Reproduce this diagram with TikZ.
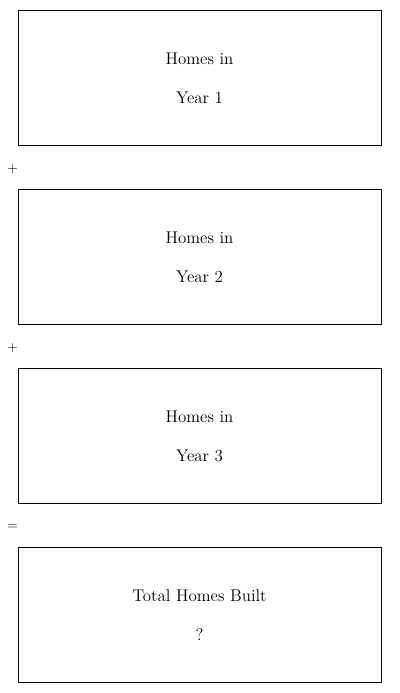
\documentclass[tikz,border=0pt]{standalone}
\usetikzlibrary{positioning}
\definecolor{ink}{HTML}{000000}
\tikzset{
  every node/.style = {text=ink},
  hbox/.style  = {draw=ink, line width=0.75pt, fill=white, align=center,
                  minimum width=272.25pt, minimum height=101.25pt, inner sep=0pt,
                  font=\fontsize{12.7}{15}\selectfont},
  hop/.style   = {font=\sffamily\fontsize{10}{12}\selectfont, inner sep=0pt},
}
\newcommand{\hgap}{\\[14.2pt]}

\begin{document}
\begin{tikzpicture}[x=0.75pt, y=-0.75pt]
\useasboundingbox (0,0) rectangle (400,693);

\node[hbox] (yr1) at (199.5,78)  {Homes in\hgap Year 1};
\node[hbox] (yr2) at (199.5,257) {Homes in\hgap Year 2};
\node[hbox] (yr3) at (199.5,436) {Homes in\hgap Year 3};
\node[hbox] (tot) at (199.5,615) {Total Homes Built\hgap ?};

\node[hop] (plusA) at (12.5,169.5) {+};
\node[hop] (plusB) at (12.5,348.5) {+};
\node[hop] (eq)    at (12.5,527.5) {=};
\end{tikzpicture}
\end{document}
